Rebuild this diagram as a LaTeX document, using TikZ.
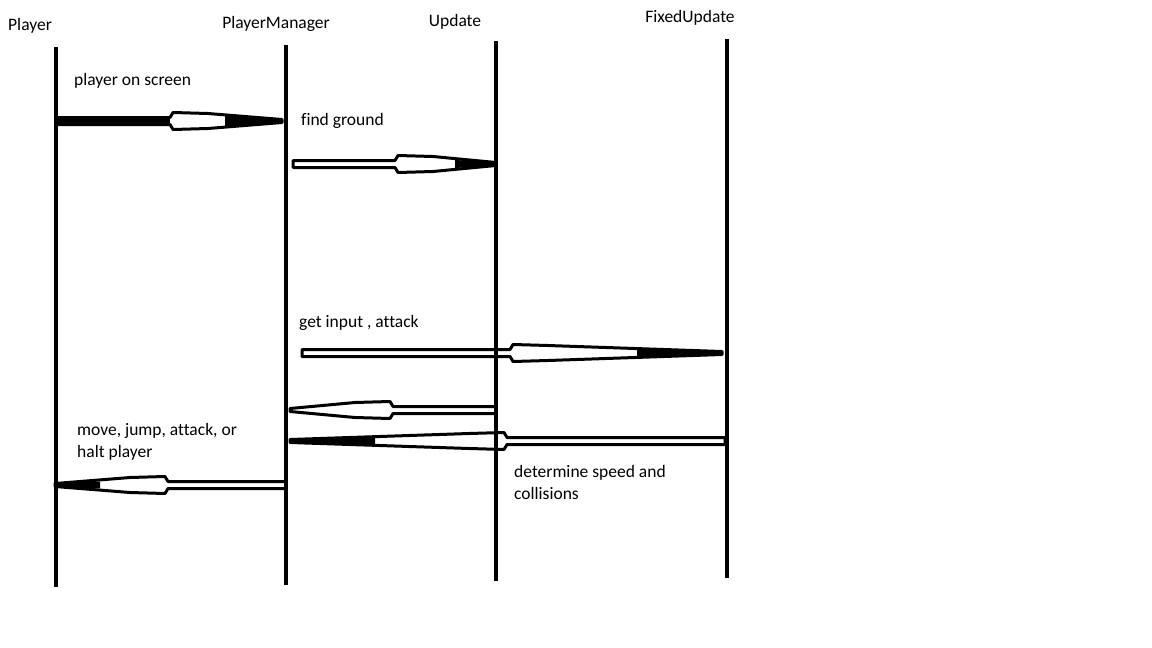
\documentclass[tikz,border=0pt]{standalone}
\usepackage{fontspec}
\setmainfont[Ligatures=NoCommon]{Carlito}
\tikzset{
  lbl/.style={font=\fontsize{17.5}{21}\selectfont, inner sep=0pt, anchor=base west},
  hdr/.style={font=\fontsize{17.5}{21}\selectfont, inner sep=0pt, anchor=base},
  life/.style={line width=4pt},
  parrow/.style={draw, line width=3pt, fill=white, line join=round},
}
\newcommand{\paintarrow}[4]{% tail, bulge, tip, y
  \pgfmathsetmacro\pd{(#3>#1)?1:-1}
  \pgfmathsetmacro\pa{#2+3*\pd}
  \pgfmathsetmacro\pb{#2+38*\pd}
  \draw[parrow] (#1,#4-3.5) -- (#2,#4-3.5) -- (\pa,#4-8.5) -- (\pb,#4-7.5) -- (#3,#4-1.5) -- (#3,#4+1.5) -- (\pb,#4+7.5) -- (\pa,#4+8.5) -- (#2,#4+3.5) -- (#1,#4+3.5) -- cycle;
}
% solid black taper from x #1 (half-height #3) to tip #2 at y #4
\newcommand{\blacktip}[4]{%
  \fill (#1,#4-#3) -- (#2,#4-1.5) -- (#2,#4+1.5) -- (#1,#4+#3) -- cycle;
}
\begin{document}
\begin{tikzpicture}[x=1pt,y=-1pt]
\useasboundingbox[fill=white] (0,0) rectangle (1152,648);
% headers
\node[lbl] (hP) at (8,30) {Player};
\node[hdr] (hPM) at (276,28) {PlayerManager};
\node[hdr] (hU) at (455,26) {Update};
\node[hdr] (hF) at (690,22) {FixedUpdate};
% lifeline ends
\coordinate (p1) at (56,47);  \coordinate (p2) at (56,587);
\coordinate (m1) at (286,45); \coordinate (m2) at (286,585);
\coordinate (u1) at (496,41); \coordinate (u2) at (496,581);
\coordinate (f1) at (727,39); \coordinate (f2) at (727,578);
% arrows
\paintarrow{58}{170}{282}{121}
\fill (58,116.5) rectangle (170,125.5);
\blacktip{225}{282}{5}{121}
\paintarrow{293}{395}{496}{164}
\blacktip{455}{496}{4}{164}
\paintarrow{302}{510}{722}{353}
\blacktip{637}{722}{4.5}{353}
\paintarrow{496}{393}{290}{410}
\paintarrow{725}{507}{290}{441}
\blacktip{375}{290}{5}{441}
\paintarrow{286}{168}{55}{485}
\blacktip{100}{55}{3.5}{485}
% lifelines
\draw[life] (p1) -- (p2);
\draw[life] (m1) -- (m2);
\draw[life] (u1) -- (u2);
\draw[life] (f1) -- (f2);
% labels
\node[lbl] (l1) at (74,85) {player on screen};
\node[lbl] (l2) at (301,125) {find ground};
\node[lbl] (l3) at (299,327) {get input , attack};
\node[lbl] (l4) at (77,435) {move, jump, attack, or};
\node[lbl] (l5) at (77,457) {halt player};
\node[lbl] (l6) at (514,477) {determine speed and};
\node[lbl] (l7) at (514,499) {collisions};
\end{tikzpicture}
\end{document}
